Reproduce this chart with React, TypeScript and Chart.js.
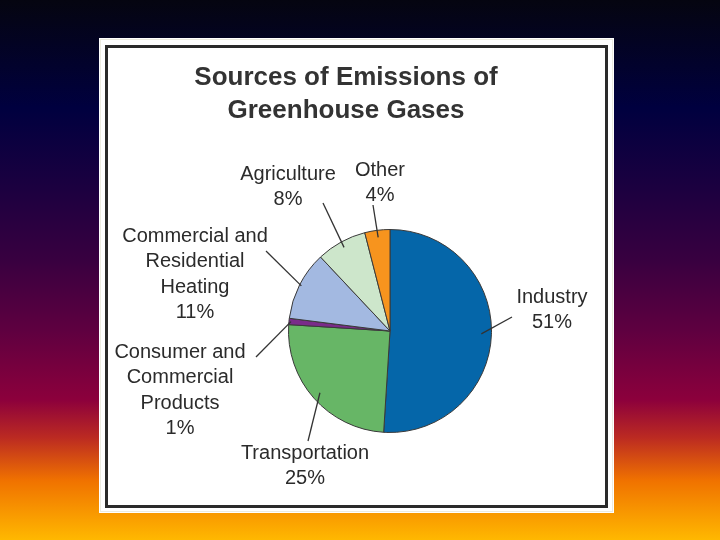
import React, { useEffect, useRef } from "react";
import { Chart, registerables } from "chart.js";

Chart.register(...registerables);

const categories = [
  "Industry",
  "Transportation",
  "Consumer and Commercial Products",
  "Commercial and Residential Heating",
  "Agriculture",
  "Other",
];
const shares = [51, 25, 1, 11, 8, 4];
const labelLines = [
  ["Industry", "51%"],
  ["Transportation", "25%"],
  ["Consumer and", "Commercial", "Products", "1%"],
  ["Commercial and", "Residential", "Heating", "11%"],
  ["Agriculture", "8%"],
  ["Other", "4%"],
];
const titleLines = ["Sources of Emissions of", "Greenhouse Gases"];

const sliceColors = ["#0566a9", "#67b666", "#7a2b8a", "#a3b9e1", "#cde6cb", "#f7941e"];

// label placement relative to pie centre (style / layout only)
const labelLayout = [
  { tx: 162, ty: -34, ex: 122, ey: -14, frac: 0.9 },
  { tx: -85, ty: 122, ex: -82, ey: 110, frac: 0.92 },
  { tx: -210, ty: 21, ex: -134, ey: 26, frac: 0.98 },
  { tx: -195, ty: -95, ex: -124, ey: -80, frac: 0.98 },
  { tx: -102, ty: -157, ex: -67, ey: -128, frac: 0.94 },
  { tx: -10, ty: -161, ex: -17, ey: -126, frac: 0.93 },
];

const decorPlugin = {
  id: "decor",
  beforeDraw(chart: any) {
    const ctx = chart.ctx as CanvasRenderingContext2D;
    const W = chart.width;
    const H = chart.height;
    ctx.save();
    const g = ctx.createLinearGradient(0, 0, 0, H);
    g.addColorStop(0, "#050510");
    g.addColorStop(0.2, "#00003f");
    g.addColorStop(0.35, "#1c0040");
    g.addColorStop(0.48, "#380040");
    g.addColorStop(0.61, "#5e0040");
    g.addColorStop(0.74, "#8c003c");
    g.addColorStop(0.81, "#bb2a22");
    g.addColorStop(0.89, "#f07200");
    g.addColorStop(1, "#ffb800");
    ctx.fillStyle = g;
    ctx.fillRect(0, 0, W, H);
    // white panel
    ctx.fillStyle = "#ffffff";
    ctx.fillRect(99, 38, 515, 475);
    ctx.strokeStyle = "#ecebe0";
    ctx.lineWidth = 1;
    ctx.strokeRect(100.5, 39.5, 512, 472);
    ctx.strokeStyle = "#2a2a2a";
    ctx.lineWidth = 3;
    ctx.strokeRect(106.5, 46.5, 500, 460);
    // title
    ctx.fillStyle = "#333333";
    ctx.font = "bold 26px 'Liberation Sans', Arial, sans-serif";
    ctx.textAlign = "center";
    ctx.textBaseline = "middle";
    titleLines.forEach((t, i) => ctx.fillText(t, 346, 78 + i * 33));
    ctx.restore();
  },
  afterDraw(chart: any) {
    const ctx = chart.ctx as CanvasRenderingContext2D;
    const meta = chart.getDatasetMeta(0);
    ctx.save();
    ctx.font = "20px 'Liberation Sans', Arial, sans-serif";
    ctx.fillStyle = "#2b2b2b";
    ctx.textAlign = "center";
    ctx.textBaseline = "middle";
    meta.data.forEach((arc: any, i: number) => {
      const p = arc.getProps(["x", "y", "startAngle", "endAngle", "outerRadius"], true);
      const mid = (p.startAngle + p.endAngle) / 2;
      const lay = labelLayout[i];
      const r = p.outerRadius * lay.frac;
      const ix = p.x + Math.cos(mid) * r;
      const iy = p.y + Math.sin(mid) * r;
      ctx.strokeStyle = "#333333";
      ctx.lineWidth = 1.3;
      ctx.beginPath();
      ctx.moveTo(ix, iy);
      ctx.lineTo(p.x + lay.ex, p.y + lay.ey);
      ctx.stroke();
      labelLines[i].forEach((t, j) => {
        ctx.fillText(t, p.x + lay.tx, p.y + lay.ty + j * 25.5);
      });
    });
    ctx.restore();
  },
};

export default function App() {
  const ref = useRef<HTMLCanvasElement | null>(null);
  useEffect(() => {
    if (!ref.current) return;
    const chart = new Chart(ref.current, {
      type: "pie",
      data: {
        labels: categories,
        datasets: [
          {
            data: shares,
            backgroundColor: sliceColors,
            borderColor: "#3a3a3a",
            borderWidth: 1,
          },
        ],
      },
      options: {
        responsive: false,
        animation: false,
        layout: { padding: { left: 288, right: 228, top: 229, bottom: 107 } },
        plugins: {
          legend: { display: false },
          tooltip: { enabled: false },
          title: { display: false },
        },
      },
      plugins: [decorPlugin],
    });
    return () => chart.destroy();
  }, []);
  return (
    <div style={{ position: "fixed", left: 0, top: 0, width: 720, height: 540 }}>
      <canvas ref={ref} width={720} height={540} style={{ display: "block" }} />
    </div>
  );
}
